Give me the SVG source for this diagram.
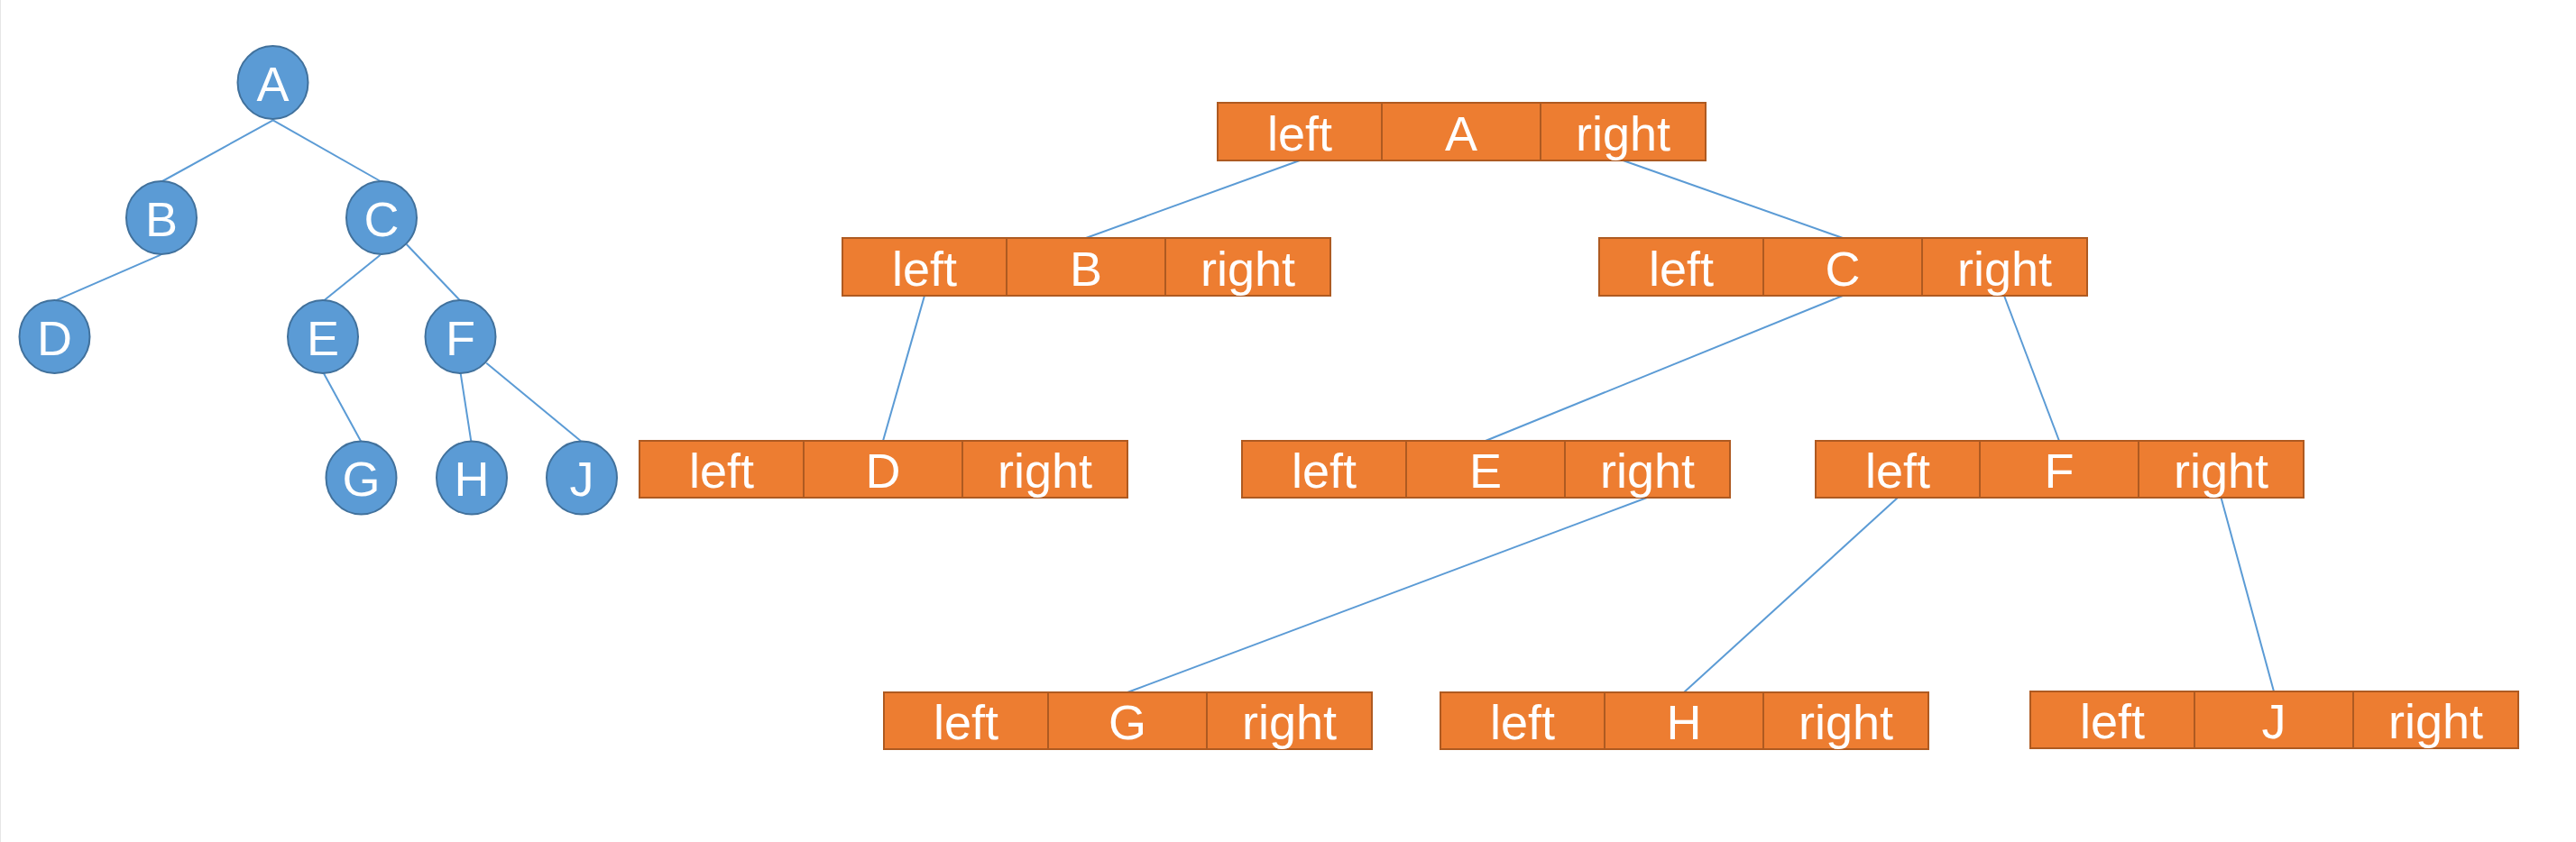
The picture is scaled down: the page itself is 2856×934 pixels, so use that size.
<svg xmlns="http://www.w3.org/2000/svg" width="2856" height="934" viewBox="0 0 2856 934">
<style>
.c{fill:#5B9BD5;stroke:#41719C;stroke-width:2}
.ct{font-family:"Liberation Sans",Arial,sans-serif;font-size:54px;fill:#fff;text-anchor:middle}
.b{fill:#ED7D31;stroke:#AE5A21;stroke-width:2}
.bt{font-family:"Liberation Sans",Arial,sans-serif;font-size:54px;fill:#fff;text-anchor:middle}
.e{stroke:#5B9BD5;stroke-width:2;fill:none}
</style>
<rect x="0" y="0" width="2856" height="934" fill="#fff"/>
<line x1="0.5" y1="0" x2="0.5" y2="934" stroke="#e6e6e6" stroke-width="1"/>
<g id="connectors">
<line class="e" x1="302.7" y1="133.3" x2="180" y2="201"/>
<line class="e" x1="302.7" y1="133.3" x2="421.7" y2="201"/>
<line class="e" x1="178.3" y1="282.7" x2="61.7" y2="333.3"/>
<line class="e" x1="421.7" y1="282.7" x2="359.3" y2="333.3"/>
<line class="e" x1="450.7" y1="271" x2="510" y2="333.3"/>
<line class="e" x1="359" y1="414.3" x2="400" y2="489.3"/>
<line class="e" x1="510.7" y1="414.3" x2="522.3" y2="489.3"/>
<line class="e" x1="539.3" y1="402.7" x2="644" y2="489.3"/>
<line class="e" x1="1441" y1="178" x2="1204" y2="264"/>
<line class="e" x1="1799.5" y1="178" x2="2043" y2="264"/>
<line class="e" x1="1025" y1="328" x2="979" y2="489"/>
<line class="e" x1="2043" y1="328" x2="1647" y2="489"/>
<line class="e" x1="2222" y1="328" x2="2283" y2="489"/>
<line class="e" x1="1826" y1="552" x2="1250" y2="768"/>
<line class="e" x1="2104" y1="552" x2="1867" y2="768"/>
<line class="e" x1="2462.5" y1="552" x2="2521" y2="767"/>
</g>
<g id="tA"><ellipse class="c" cx="302.5" cy="91.5" rx="39" ry="40.5"/><text class="ct" x="302.5" y="111.5">A</text></g>
<g id="tB"><ellipse class="c" cx="179" cy="241.5" rx="39" ry="40.5"/><text class="ct" x="179" y="261.5">B</text></g>
<g id="tC"><ellipse class="c" cx="423" cy="241.5" rx="39" ry="40.5"/><text class="ct" x="423" y="261.5">C</text></g>
<g id="tD"><ellipse class="c" cx="60.5" cy="373.5" rx="39" ry="40.5"/><text class="ct" x="60.5" y="393.5">D</text></g>
<g id="tE"><ellipse class="c" cx="358" cy="373.5" rx="39" ry="40.5"/><text class="ct" x="358" y="393.5">E</text></g>
<g id="tF"><ellipse class="c" cx="510.5" cy="373.5" rx="39" ry="40.5"/><text class="ct" x="510.5" y="393.5">F</text></g>
<g id="tG"><ellipse class="c" cx="400.5" cy="530" rx="39" ry="40.5"/><text class="ct" x="400.5" y="550">G</text></g>
<g id="tH"><ellipse class="c" cx="523" cy="530" rx="39" ry="40.5"/><text class="ct" x="523" y="550">H</text></g>
<g id="tJ"><ellipse class="c" cx="645" cy="530" rx="39" ry="40.5"/><text class="ct" x="645" y="550">J</text></g>
<g id="nA" transform="translate(1350,114)"><rect class="b" x="0" y="0" width="182" height="64"/><rect class="b" x="182" y="0" width="176" height="64"/><rect class="b" x="358" y="0" width="183" height="64"/><text class="bt" x="91" y="53">left</text><text class="bt" x="270" y="53">A</text><text class="bt" x="449.5" y="53">right</text></g>
<g id="nB" transform="translate(934,264)"><rect class="b" x="0" y="0" width="182" height="64"/><rect class="b" x="182" y="0" width="176" height="64"/><rect class="b" x="358" y="0" width="183" height="64"/><text class="bt" x="91" y="53">left</text><text class="bt" x="270" y="53">B</text><text class="bt" x="449.5" y="53">right</text></g>
<g id="nC" transform="translate(1773,264)"><rect class="b" x="0" y="0" width="182" height="64"/><rect class="b" x="182" y="0" width="176" height="64"/><rect class="b" x="358" y="0" width="183" height="64"/><text class="bt" x="91" y="53">left</text><text class="bt" x="270" y="53">C</text><text class="bt" x="449.5" y="53">right</text></g>
<g id="nD" transform="translate(709,489)"><rect class="b" x="0" y="0" width="182" height="63"/><rect class="b" x="182" y="0" width="176" height="63"/><rect class="b" x="358" y="0" width="183" height="63"/><text class="bt" x="91" y="52">left</text><text class="bt" x="270" y="52">D</text><text class="bt" x="449.5" y="52">right</text></g>
<g id="nE" transform="translate(1377,489)"><rect class="b" x="0" y="0" width="182" height="63"/><rect class="b" x="182" y="0" width="176" height="63"/><rect class="b" x="358" y="0" width="183" height="63"/><text class="bt" x="91" y="52">left</text><text class="bt" x="270" y="52">E</text><text class="bt" x="449.5" y="52">right</text></g>
<g id="nF" transform="translate(2013,489)"><rect class="b" x="0" y="0" width="182" height="63"/><rect class="b" x="182" y="0" width="176" height="63"/><rect class="b" x="358" y="0" width="183" height="63"/><text class="bt" x="91" y="52">left</text><text class="bt" x="270" y="52">F</text><text class="bt" x="449.5" y="52">right</text></g>
<g id="nG" transform="translate(980,768)"><rect class="b" x="0" y="0" width="182" height="63"/><rect class="b" x="182" y="0" width="176" height="63"/><rect class="b" x="358" y="0" width="183" height="63"/><text class="bt" x="91" y="52">left</text><text class="bt" x="270" y="52">G</text><text class="bt" x="449.5" y="52">right</text></g>
<g id="nH" transform="translate(1597,768)"><rect class="b" x="0" y="0" width="182" height="63"/><rect class="b" x="182" y="0" width="176" height="63"/><rect class="b" x="358" y="0" width="183" height="63"/><text class="bt" x="91" y="52">left</text><text class="bt" x="270" y="52">H</text><text class="bt" x="449.5" y="52">right</text></g>
<g id="nJ" transform="translate(2251,767)"><rect class="b" x="0" y="0" width="182" height="63"/><rect class="b" x="182" y="0" width="176" height="63"/><rect class="b" x="358" y="0" width="183" height="63"/><text class="bt" x="91" y="52">left</text><text class="bt" x="270" y="52">J</text><text class="bt" x="449.5" y="52">right</text></g>
</svg>
